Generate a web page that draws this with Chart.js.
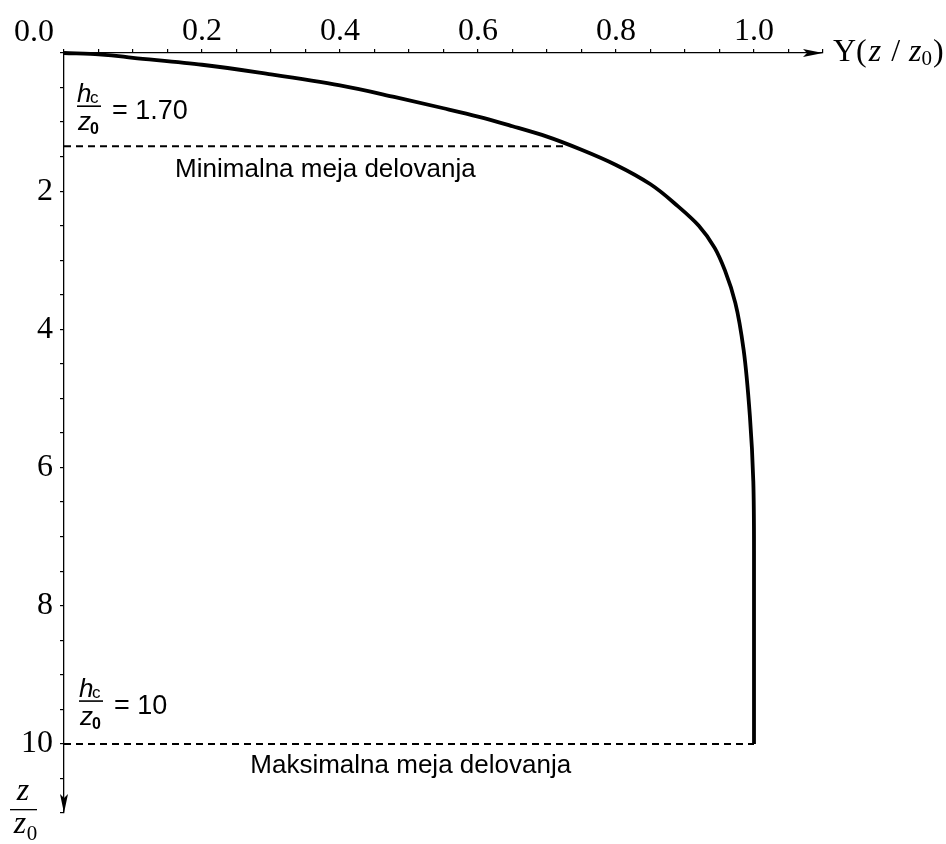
<!DOCTYPE html>
<html>
<head>
<meta charset="utf-8">
<script src="https://cdn.jsdelivr.net/npm/chart.js@4.4.1/dist/chart.umd.min.js"></script>
<style>
  html, body { margin: 0; padding: 0; background: #fff; }
  #wrap { width: 946px; height: 844px; }
</style>
</head>
<body>
<div id="wrap"><canvas id="chart" width="946" height="844"></canvas></div>
<script>
// curve Y(z/z0): Y on the horizontal axis, z/z0 downwards
const curveY = [0, 0.05, 0.1, 0.2, 0.3, 0.4, 0.48, 0.55, 0.6, 0.65, 0.7, 0.75, 0.8, 0.85, 0.89, 0.92, 0.943, 0.958, 0.973, 0.985, 0.994, 0.999, 1.0, 1.0];
const curveZ = [0, 0.02, 0.07, 0.17, 0.31, 0.47, 0.64, 0.80, 0.92, 1.06, 1.21, 1.40, 1.62, 1.90, 2.22, 2.50, 2.82, 3.15, 3.62, 4.30, 5.25, 6.2, 7.2, 10];

// dashed limit lines
const minLimitY = [0, 0.726];
const minLimitZ = [1.35, 1.35];
const maxLimitY = [0, 1.0];
const maxLimitZ = [10, 10];

// texts
const limitValues = ['1.70', '10'];
const limitNames = ['Minimalna meja delovanja', 'Maksimalna meja delovanja'];

// axes
const xMax = 1.1, xStep = 0.05;
const zMax = 11, zStep = 0.5;

const pts = (xs, ys) => xs.map((v, i) => ({ x: v, y: ys[i] }));

const serif = '"Liberation Serif", "Times New Roman", serif';
const sans = '"Liberation Sans", Arial, sans-serif';

const decor = {
  id: 'decor',
  afterDraw(chart) {
    const { ctx } = chart;
    const xs = chart.scales.x, ys = chart.scales.y;
    const L = xs.left, T = ys.top, R = xs.right, B = ys.bottom;
    ctx.save();
    ctx.fillStyle = '#000';

    // arrow heads
    ctx.beginPath();
    ctx.moveTo(R, T); ctx.lineTo(R - 20, T - 4); ctx.lineTo(R - 16, T); ctx.lineTo(R - 20, T + 4);
    ctx.closePath(); ctx.fill();
    ctx.beginPath();
    ctx.moveTo(L, B); ctx.lineTo(L - 4, B - 19); ctx.lineTo(L, B - 15); ctx.lineTo(L + 4, B - 19);
    ctx.closePath(); ctx.fill();

    // origin label
    ctx.font = '32px ' + serif;
    ctx.textAlign = 'center';
    ctx.textBaseline = 'alphabetic';
    ctx.fillText('0.0', L - 30, T - 12);

    // horizontal axis title  Y(z / z0)
    ctx.textAlign = 'left';
    let cx = R + 10;
    const by = T + 8;
    const put = (s, font, dy, gap) => { ctx.font = font; ctx.fillText(s, cx, by + (dy || 0)); cx += ctx.measureText(s).width + (gap || 0); };
    put('Y(', '32px ' + serif, 0, 2);
    put('z', 'italic 32px ' + serif, 0, 2);
    put(' / ', '32px ' + serif, 0, 1);
    put('z', 'italic 32px ' + serif);
    put('0', '21px ' + serif, 4, 1);
    put(')', '32px ' + serif);

    // vertical axis title  z / z0
    ctx.textAlign = 'center';
    ctx.font = 'italic 32px ' + serif;
    ctx.fillText('z', L - 41, B - 13);
    ctx.fillRect(L - 54, B - 4, 27, 1.3);
    ctx.fillText('z', L - 44, B + 20);
    ctx.font = '21px ' + serif;
    ctx.fillText('0', L - 32, B + 27);

    // h_c / z_0 = value
    const frac = (x, barY, value) => {
      ctx.textAlign = 'left';
      ctx.font = 'italic 26px ' + sans;
      ctx.fillText('h', x, barY - 4);
      ctx.font = '17px ' + sans;
      ctx.fillText('c', x + 13, barY - 3);
      ctx.fillRect(x, barY - 0.8, 24, 1.6);
      ctx.font = 'italic 26px ' + sans;
      ctx.fillText('z', x + 1, barY + 24);
      ctx.font = 'bold 16px ' + sans;
      ctx.fillText('0', x + 13, barY + 28);
      ctx.font = '27px ' + sans;
      ctx.fillText('= ' + value, x + 35, barY + 13);
    };
    frac(xs.getPixelForValue(0) + 13, ys.getPixelForValue(0.77), limitValues[0]);
    frac(xs.getPixelForValue(0) + 15, ys.getPixelForValue(9.38), limitValues[1]);

    // limit names under the dashed lines
    ctx.textAlign = 'left';
    ctx.font = '26px ' + sans;
    ctx.fillText(limitNames[0], xs.getPixelForValue(0.161), ys.getPixelForValue(minLimitZ[0]) + 31);
    ctx.fillText(limitNames[1], xs.getPixelForValue(0.27), ys.getPixelForValue(maxLimitZ[0]) + 29);
    ctx.restore();
  }
};

const nearly = (v, step) => Math.abs(v / step - Math.round(v / step)) < 1e-6;

new Chart(document.getElementById('chart'), {
  type: 'scatter',
  data: {
    datasets: [
      { data: pts(curveY, curveZ), showLine: true, borderColor: '#000', borderWidth: 3.8, pointRadius: 0, cubicInterpolationMode: 'monotone', clip: false },
      { data: pts(minLimitY, minLimitZ), showLine: true, borderColor: '#000', borderWidth: 2, borderDash: [7, 5], pointRadius: 0 },
      { data: pts(maxLimitY, maxLimitZ), showLine: true, borderColor: '#000', borderWidth: 2, borderDash: [7, 5], pointRadius: 0 }
    ]
  },
  options: {
    indexAxis: 'y',
    responsive: false,
    animation: false,
    events: [],
    layout: { padding: { left: 0, top: 0, right: 123, bottom: 31 } },
    plugins: { legend: { display: false }, tooltip: { enabled: false } },
    scales: {
      x: {
        type: 'linear',
        position: 'top',
        min: 0,
        max: xMax,
        afterFit: s => { s.height = 53; },
        border: { display: true, color: '#000', width: 1.3 },
        grid: { drawOnChartArea: false, drawTicks: true, tickLength: 4, color: '#000', lineWidth: 1.2 },
        ticks: {
          stepSize: xStep,
          autoSkip: false,
          maxRotation: 0,
          padding: -2,
          color: '#000',
          font: { family: serif, size: 32 },
          callback: v => (v > 0 && v <= 1.0001 && nearly(v, 0.2)) ? v.toFixed(1) : ''
        }
      },
      y: {
        type: 'linear',
        position: 'left',
        reverse: true,
        min: 0,
        max: zMax,
        afterFit: s => { s.width = 64; },
        border: { display: true, color: '#000', width: 1.3 },
        grid: { drawOnChartArea: false, drawTicks: true, tickLength: 4, color: '#000', lineWidth: 1.2 },
        ticks: {
          stepSize: zStep,
          autoSkip: false,
          padding: 7,
          color: '#000',
          font: { family: serif, size: 32 },
          callback: v => (v > 0 && v <= 10 && nearly(v, 2)) ? String(v) : ''
        }
      }
    }
  },
  plugins: [decor]
});
</script>
</body>
</html>
